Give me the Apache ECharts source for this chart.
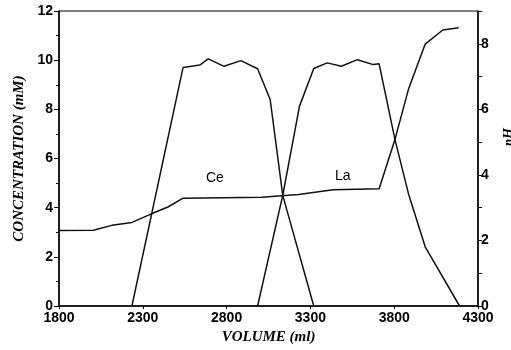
<!DOCTYPE html>
<html>
<head>
<meta charset="utf-8">
<script src="https://cdn.jsdelivr.net/npm/echarts@6/dist/echarts.min.js"></script>
<style>html,body{margin:0;padding:0;background:#fff;}#c{width:511px;height:350px;}</style>
</head>
<body>
<div id="c"></div>
<script>
// Data
const ceVolume = [2235, 2540, 2640, 2690, 2785, 2885, 2985, 3060, 3135, 3320];
const ceConc   = [0, 9.7, 9.8, 10.05, 9.75, 9.98, 9.65, 8.4, 4.5, 0];

const laVolume = [2985, 3135, 3235, 3320, 3400, 3485, 3580, 3675, 3710, 3805, 3885, 3985, 4190];
const laConc   = [0, 4.5, 8.13, 9.66, 9.89, 9.75, 10.02, 9.82, 9.85, 6.76, 4.57, 2.41, 0];

const phVolume = [1800, 2005, 2115, 2235, 2355, 2450, 2540, 3010, 3230, 3435, 3710, 3805, 3885, 3985, 4090, 4185];
const phValue  = [2.30, 2.31, 2.46, 2.55, 2.82, 3.02, 3.29, 3.32, 3.40, 3.55, 3.58, 5.09, 6.61, 7.99, 8.42, 8.49];

const xTicks = [1800, 2300, 2800, 3300, 3800, 4300];
const concTicks = [0, 2, 4, 6, 8, 10, 12];
const phTicks = [0, 2, 4, 6, 8];

const seriesLabels = ['Ce', 'La'];
const xName = 'VOLUME (ml)';
const yName = 'CONCENTRATION (mM)';
const y2Name = 'pH';

const zip = (a, b) => a.map((v, i) => [v, b[i]]);

const chart = echarts.init(document.getElementById('c'), null, {renderer: 'canvas'});
const lineStyle = {color: '#111', width: 1.5};
const tickFont = {color: '#000', fontFamily: 'Liberation Sans, Arial, sans-serif', fontWeight: 'bold', fontSize: 14};
const nameFont = {color: '#000', fontFamily: 'Liberation Serif, Times New Roman, serif', fontWeight: 'bold', fontStyle: 'italic', fontSize: 15};

chart.setOption({
  animation: false,
  backgroundColor: '#fff',
  grid: {left: 59, right: 33, top: 11, bottom: 42, show: true, borderColor: '#000', borderWidth: 1},
  xAxis: {
    type: 'value', min: xTicks[0], max: xTicks[xTicks.length - 1], interval: 500,
    name: xName, nameLocation: 'middle', nameGap: 24, nameTextStyle: nameFont,
    axisLine: {lineStyle: {color: '#000', width: 1.5}},
    axisTick: {show: true, length: 3, lineStyle: {color: '#000'}},
    axisLabel: Object.assign({margin: 5, formatter: v => String(v)}, tickFont),
    splitLine: {show: false}
  },
  yAxis: [{
    type: 'value', min: concTicks[0], max: concTicks[concTicks.length - 1], interval: 2,
    name: yName, nameLocation: 'middle', nameGap: 32, nameTextStyle: nameFont,
    axisLine: {show: true, lineStyle: {color: '#000', width: 1.5}},
    axisTick: {show: true, length: 5, lineStyle: {color: '#000'}},
    minorTick: {show: true, splitNumber: 2, length: 3, lineStyle: {color: '#000'}},
    axisLabel: Object.assign({margin: 6, formatter: v => String(v)}, tickFont),
    splitLine: {show: false}, minorSplitLine: {show: false}
  }, {
    type: 'value', min: 0, max: 9, interval: 1, position: 'right',
    axisLine: {show: true, lineStyle: {color: '#000', width: 1.5}},
    axisTick: {show: true, length: 4, lineStyle: {color: '#000'}},
    axisLabel: Object.assign({margin: 3, formatter: v => phTicks.indexOf(v) >= 0 ? String(v) : ''}, tickFont),
    splitLine: {show: false}
  }],
  series: [
    {type: 'line', data: zip(ceVolume, ceConc), showSymbol: false, lineStyle: lineStyle, yAxisIndex: 0},
    {type: 'line', data: zip(laVolume, laConc), showSymbol: false, lineStyle: lineStyle, yAxisIndex: 0},
    {type: 'line', data: zip(phVolume, phValue), showSymbol: false, lineStyle: lineStyle, yAxisIndex: 1}
  ],
  graphic: [
    {type: 'text', left: 206, top: 171, style: {text: seriesLabels[0], font: '14px Liberation Sans, Arial, sans-serif', fill: '#000'}},
    {type: 'text', left: 335, top: 169, style: {text: seriesLabels[1], font: '14px Liberation Sans, Arial, sans-serif', fill: '#000'}},
    {type: 'text', x: 509, y: 137, rotation: Math.PI / 2,
     style: {text: y2Name, font: 'italic bold 14px Liberation Serif, Times New Roman, serif', fill: '#000', align: 'center', verticalAlign: 'middle'}}
  ]
});
</script>
</body>
</html>
